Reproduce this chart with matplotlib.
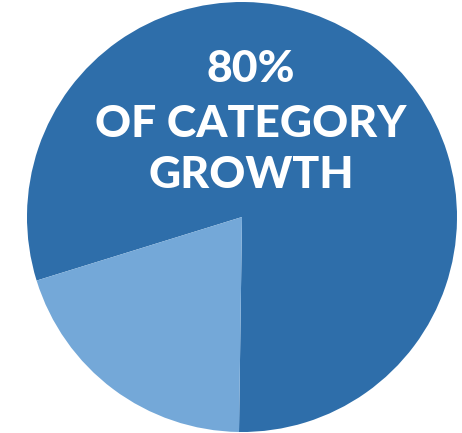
import matplotlib.pyplot as plt

# share of category growth
labels = ['Growth share', 'Other']
values = [80, 20]
colors = ['#2E6EAA', '#74A8D8']
headline = ['80%', 'OF CATEGORY', 'GROWTH']

W, H = 462, 433
fig = plt.figure(figsize=(W / 100, H / 100), dpi=100)
fig.patch.set_facecolor('white')

# pie centred at (242, 217) px with radius 215 px
cx, cy, r = 242, 217, 215
ax = fig.add_axes([(cx - r) / W, (H - cy - r) / H, 2 * r / W, 2 * r / H])
ax.pie(values, colors=colors, startangle=269.2, counterclock=True,
       radius=1, wedgeprops=dict(linewidth=0))
ax.set_xlim(-1, 1)
ax.set_ylim(-1, 1)
ax.set_aspect('auto')
ax.axis('off')

# headline text, one line per baseline (px from top)
baselines = [82, 137, 188]
for txt, yb in zip(headline, baselines):
    fig.text(251 / W, 1 - yb / H, txt, ha='center', va='baseline',
             color='white', fontsize=32, fontweight='black', family='Lato')

fig.savefig('out.png', dpi=100)
